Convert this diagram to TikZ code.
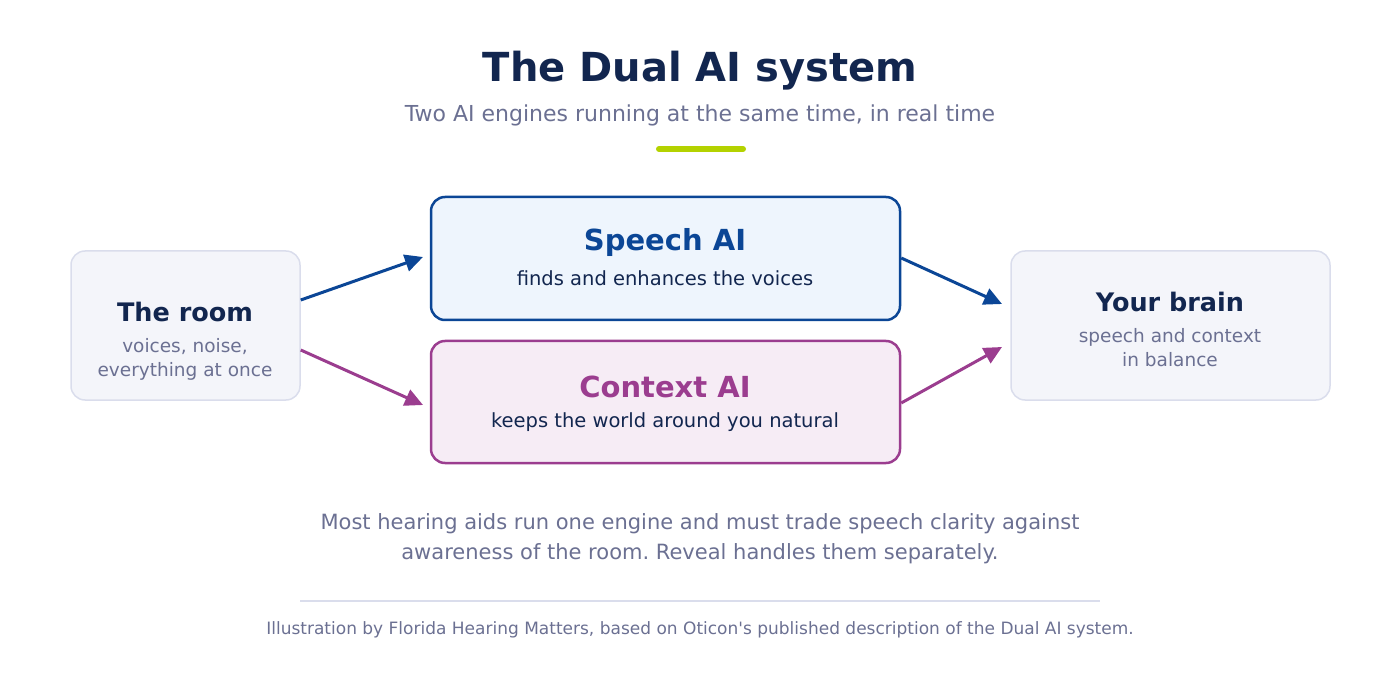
\documentclass[tikz,border=0pt]{standalone}
\usepackage{fontspec}
\setmainfont{DejaVu Sans}
\newfontfamily\rawfont{DejaVu Sans}
\frenchspacing
\usetikzlibrary{positioning,arrows.meta}
\definecolor{navy}{HTML}{12264F}
\definecolor{speechblue}{HTML}{0B4696}
\definecolor{ctxpurple}{HTML}{9B3D8F}
\definecolor{greytext}{HTML}{6B7092}
\definecolor{sidefill}{HTML}{F4F5FA}
\definecolor{sideline}{HTML}{DADDEC}
\definecolor{speechfill}{HTML}{EEF5FD}
\definecolor{ctxfill}{HTML}{F6ECF5}
\definecolor{lime}{HTML}{B4D200}
\tikzset{
  side/.style={draw=sideline, line width=1.5pt, fill=sidefill, rounded corners=14pt, align=center},
  engine/.style={line width=2.5pt, rounded corners=14pt, align=center},
  link/.style={line width=3pt, -{Triangle[length=18pt,width=17pt]}},
}
\begin{document}
\begin{tikzpicture}[x=1pt,y=-1pt]
		\useasboundingbox (0,0) rectangle (1400,700);
		% heading
		\node (title) at (700,71) {\fontsize{40}{48}\selectfont\bfseries\color{navy}The Dual AI system};
		\node (sub) at (700,115) {\fontsize{22}{26}\selectfont\color{greytext}Two AI engines running at the same time, in real time};
		\draw [lime, line width=6pt, line cap=round] (659,149) -- (743,149);
		
		% boxes
		\node [side, minimum width=229, minimum height=149] (room) at (185.5,325.5) {};
		\node at (185,312) {\fontsize{25.5}{30}\selectfont\bfseries\color{navy}The room};
		\node at (185,360) {\fontsize{18.5}{24}\selectfont\color{greytext}\begin{tabular}{c}voices, noise,\\everything at once\end{tabular}};
		\node [side, minimum width=319, minimum height=149] (brain) at (1170.5,325.5) {};
		\node at (1170,302) {\fontsize{25.5}{30}\selectfont\bfseries\color{navy}Your brain};
		\node at (1170,350) {\fontsize{18.5}{24}\selectfont\color{greytext}\begin{tabular}{c}speech and context\\in balance\end{tabular}};
		\node [engine, draw=speechblue, fill=speechfill, minimum width=469, minimum height=123] (speech) at (665.5,258.5) {};
		\node at (665,243) {\fontsize{29}{34}\selectfont\bfseries\color{speechblue}Speech AI};
		\node at (665,278) {\fontsize{19.5}{24}\selectfont\color{navy}finds and enhances the voices};
		\node [engine, draw=ctxpurple, fill=ctxfill, minimum width=469, minimum height=122] (context) at (665.5,402) {};
		\node at (665,387) {\fontsize{29}{34}\selectfont\bfseries\color{ctxpurple}Context AI};
		\node at (665,422) {\fontsize{19.5}{24}\selectfont\color{navy}keeps the world around you natural};
		
		% connectors
		\coordinate (sIn) at (423,257);
		\coordinate (cIn) at (423,405);
		\coordinate (bTop) at (1002,304);
		\coordinate (bBot) at (1002,347);
		\draw [link, speechblue] (room.east |- 0,300) -- (sIn);
		\draw [link, ctxpurple] (room.east |- 0,350) -- (cIn);
		\draw [link, speechblue] (speech.east |- 0,258) -- (bTop);
		\draw [link, ctxpurple] (context.east |- 0,403) -- (bBot);
		
		% notes
		\node (note) at (700,538) {\fontsize{21}{30}\selectfont\color{greytext}\begin{tabular}{c}Most hearing aids run one engine and must trade speech clarity against\\awareness of the room. Reveal handles them separately.\end{tabular}};
		\draw [sideline, line width=1.5pt] (300,601) -- (1100,601);
		\node (credit) at (700,630) {\rawfont\fontsize{17}{20}\selectfont\color{greytext}Illustration by Florida Hearing Matters, based on Oticon's published description of the Dual AI system.};
\end{tikzpicture}
\end{document}
